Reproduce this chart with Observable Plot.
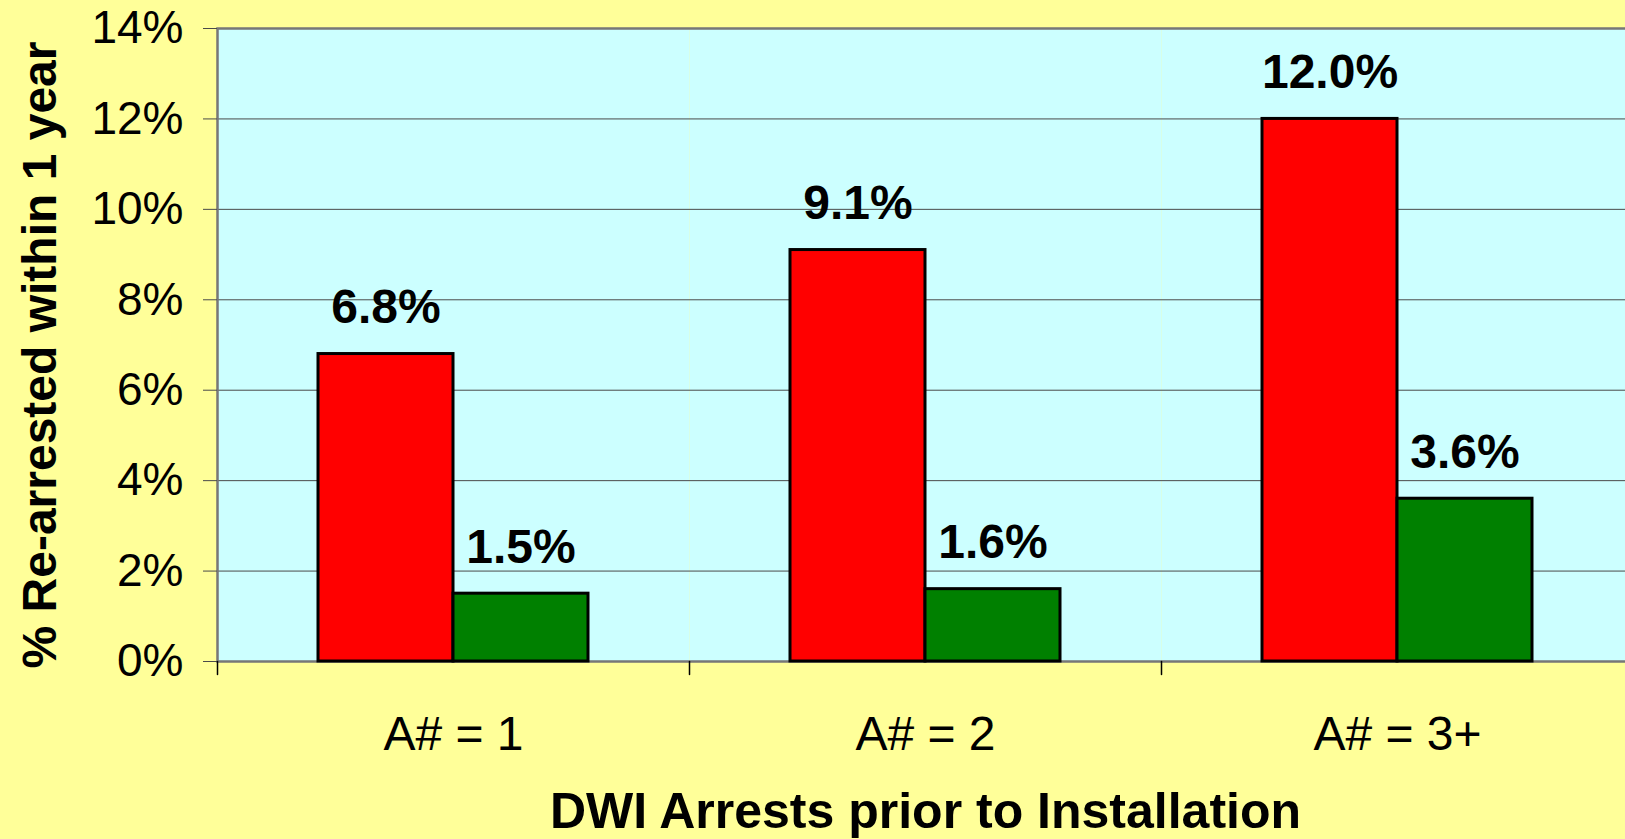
<!DOCTYPE html>
<html><head><meta charset="utf-8">
<script src="https://cdn.jsdelivr.net/npm/d3@7"></script>
<script src="https://cdn.jsdelivr.net/npm/@observablehq/plot@0.6"></script>
<style>html,body{margin:0;padding:0;overflow:hidden;background:#FFFF99;} svg{max-width:none !important;}</style>
</head><body><div id="chart"></div>
<script>
const categories = ["A# = 1", "A# = 2", "A# = 3+"];
const series = ["Series A", "Series B"];
const redValues = [6.8, 9.1, 12.0];
const greenValues = [1.5, 1.6, 3.6];
const yTicks = [0, 2, 4, 6, 8, 10, 12, 14];
const seriesColors = ["#FF0000", "#008000"];
const yTitle = "% Re-arrested within 1 year";
const xTitle = "DWI Arrests prior to Installation";

const data = categories.flatMap((c, i) => [
  {category: c, series: series[0], value: redValues[i]},
  {category: c, series: series[1], value: greenValues[i]}
]);

const tickShape = {draw(context, l) { context.moveTo(0, 0); context.lineTo(0, -l); }};
const font = "'Liberation Sans', Arial, Helvetica, sans-serif";

const chart = Plot.plot({
  width: 1640, height: 839,
  marginLeft: 216, marginRight: 6, marginTop: 28, marginBottom: 178,
  style: {background: "#FFFF99", fontFamily: font, color: "#000", maxWidth: "none"},
  fx: {domain: categories, padding: 0, label: null, axis: null},
  x: {domain: series, paddingInner: 0, paddingOuter: 0.74, axis: null},
  y: {domain: [0, 14], axis: null},
  color: {domain: series, range: seriesColors},
  marks: [
    Plot.frame({fill: "#CCFFFF"}),
    Plot.ruleY(yTicks, {stroke: "#4a4a4a", strokeWidth: 1}),
    Plot.frame({facet: "super", stroke: "#777", strokeWidth: 2.5}),
    Plot.barY(data, {fx: "category", x: "series", y: "value", fill: "series", stroke: "#000", strokeWidth: 3}),
    Plot.text(data, {fx: "category", x: "series", y: "value", text: d => d.value.toFixed(1) + "%", fontSize: 48, fontWeight: "bold", lineAnchor: "bottom", dy: -31}),
    Plot.axisY({ticks: yTicks, tickFormat: d => d + "%", tickSize: 14, tickPadding: 20, fontSize: 46, stroke: "#4a4a4a", label: null}),
    Plot.axisFx({anchor: "bottom", tickSize: 0, tickPadding: 54, fontSize: 48, label: null}),
    Plot.vector(categories, {fx: d => d, frameAnchor: "bottom-left", rotate: 180, length: 13, anchor: "start", shape: tickShape, stroke: "#000", strokeWidth: 1.5}),
    Plot.text([yTitle], {fx: () => categories[0], frameAnchor: "left", textAnchor: "middle", rotate: -90, dx: -177, dy: 10, fontSize: 48, fontWeight: "bold"}),
    Plot.text([xTitle], {fx: () => categories[1], frameAnchor: "bottom", lineAnchor: "middle", dy: 150, fontSize: 50, fontWeight: "bold"})
  ]
});
document.getElementById("chart").append(chart);
</script>
</body></html>
